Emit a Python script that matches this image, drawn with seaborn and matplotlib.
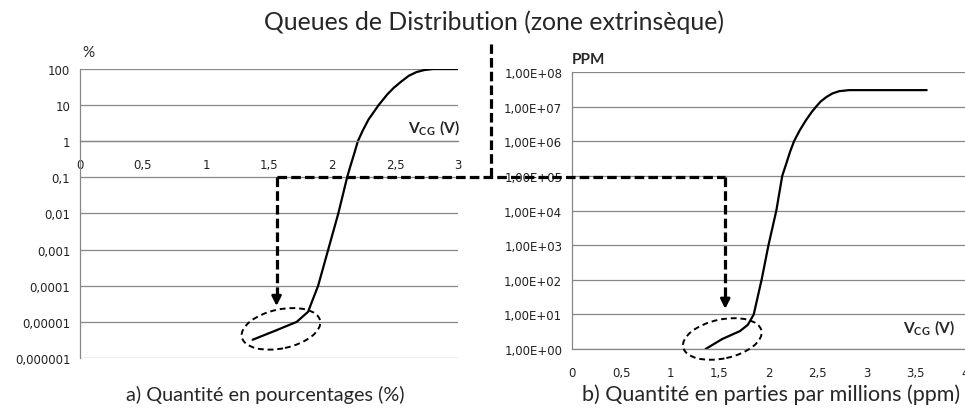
import numpy as np
import matplotlib
matplotlib.use("Agg")
import matplotlib.pyplot as plt
from matplotlib.lines import Line2D
from matplotlib.patches import Ellipse, FancyArrowPatch
from matplotlib.transforms import IdentityTransform
from matplotlib.ticker import FixedLocator, FixedFormatter, NullLocator
import seaborn as sns

# Tail of the threshold-voltage distribution, in percent
v_pct = [1.37, 1.55, 1.72, 1.81, 1.89, 1.97, 2.05, 2.12, 2.145, 2.18, 2.205, 2.245,
         2.29, 2.37, 2.44, 2.49, 2.55, 2.61, 2.67, 2.73, 2.80, 3.00]
pct = [3.2e-6, 5.7e-6, 1.0e-5, 1.9e-5, 1e-4, 1e-3, 1e-2, 1e-1, 0.2, 0.5, 1.0, 2.0,
       4.0, 10.0, 20.0, 30.0, 45.0, 65.0, 82.0, 93.0, 100.0, 100.0]

# Same tail, in parts per million
v_ppm = [1.36, 1.53, 1.71, 1.79, 1.85, 1.93, 2.00, 2.08, 2.14, 2.175, 2.22, 2.26,
         2.315, 2.38, 2.44, 2.485, 2.53, 2.59, 2.65, 2.72, 2.82, 3.61]
ppm = [1.0, 1.95, 3.3, 5.0, 10.0, 1e2, 1e3, 1e4, 1e5, 2e5, 5e5, 1e6,
       2e6, 4e6, 7e6, 1e7, 1.4e7, 1.9e7, 2.4e7, 2.8e7, 3.0e7, 3.0e7]

pct_ticks = [1e-6, 1e-5, 1e-4, 1e-3, 1e-2, 1e-1, 1, 10, 100]
pct_labels = ["0,000001", "0,00001", "0,0001", "0,001", "0,01", "0,1", "1", "10", "100"]
ppm_ticks = [10.0 ** k for k in range(0, 9)]
ppm_labels = ["1,00E+%02d" % k for k in range(0, 9)]
x_ticks_a = [0, 0.5, 1, 1.5, 2, 2.5, 3]
x_labels_a = ["0", "0,5", "1", "1,5", "2", "2,5", "3"]
x_ticks_b = [0, 0.5, 1, 1.5, 2, 2.5, 3, 3.5, 4]
x_labels_b = ["0", "0,5", "1", "1,5", "2", "2,5", "3", "3,5", "4"]

v_read = 1.56  # reading voltage marked by the dashed guides

sns.set_style("white")
plt.rcParams["font.family"] = ["DejaVu Sans"]
plt.rcParams["mathtext.fontset"] = "custom"
plt.rcParams["mathtext.bf"] = "Lato:bold"
plt.rcParams["mathtext.rm"] = "Lato"

GRID = "#878787"
DPI = 100
fig = plt.figure(figsize=(9.65, 4.10), dpi=DPI)
ax1 = fig.add_axes([0.0829, 0.1244, 0.3917, 0.7049])
ax2 = fig.add_axes([0.5927, 0.1463, 0.4073, 0.6756])

sns.lineplot(x=v_pct, y=pct, ax=ax1, color="black", lw=1.6, sort=False)
sns.lineplot(x=v_ppm, y=ppm, ax=ax2, color="black", lw=1.6, sort=False)

for ax in (ax1, ax2):
    ax.set_yscale("log")
    ax.yaxis.set_minor_locator(NullLocator())
    ax.xaxis.set_minor_locator(NullLocator())
    ax.grid(False)
    ax.yaxis.grid(True, color=GRID, lw=0.9)
    ax.set_axisbelow(True)
    for s in ("top", "right"):
        ax.spines[s].set_visible(False)
    for s in ("left", "bottom"):
        ax.spines[s].set_color(GRID)
        ax.spines[s].set_linewidth(0.9)
    ax.tick_params(axis="both", direction="out", length=4, width=0.9,
                   color=GRID, labelsize=8.5, labelcolor="#222222")
    ax.tick_params(axis="x", pad=8)
    ax.tick_params(axis="y", pad=3)
    ax.set_xlabel("")
    ax.set_ylabel("")

ax1.set_xlim(0, 3)
ax1.set_ylim(1e-6, 100)
ax1.yaxis.set_major_locator(FixedLocator(pct_ticks))
ax1.yaxis.set_major_formatter(FixedFormatter(pct_labels))
ax1.xaxis.set_major_locator(FixedLocator(x_ticks_a))
ax1.xaxis.set_major_formatter(FixedFormatter(x_labels_a))
ax1.spines["bottom"].set_position(("data", 1))

ax2.set_xlim(0, 4)
ax2.set_ylim(1, 1e8)
ax2.yaxis.set_major_locator(FixedLocator(ppm_ticks))
ax2.yaxis.set_major_formatter(FixedFormatter(ppm_labels))
ax2.xaxis.set_major_locator(FixedLocator(x_ticks_b))
ax2.xaxis.set_major_formatter(FixedFormatter(x_labels_b))

# Axis annotations
ax1.text(0.005, 1.06, "%", transform=ax1.transAxes, family="Lato",
         fontsize=11, ha="left", va="center")
ax2.text(0.0, 1.02, "PPM", transform=ax2.transAxes, family="Lato",
         fontsize=11, fontweight="bold", ha="left", va="bottom")
vcg = r"$\mathbf{V_{CG}}$ $\mathbf{(V)}$"
ax1.text(1.005, 0.80, vcg, transform=ax1.transAxes, fontsize=11.2,
         ha="right", va="center")
ax2.text(0.975, 0.08, vcg, transform=ax2.transAxes, fontsize=11.2,
         ha="right", va="center")

# Titles
fig.text(0.512, 0.946, "Queues de Distribution (zone extrinsèque)",
         family="Lato", fontsize=17.8, ha="center", va="center")
fig.text(0.2746, 0.037, "a) Quantité en pourcentages (%)",
         family="Lato", fontsize=14.3, ha="center", va="center")
fig.text(0.799, 0.037, "b) Quantité en parties par millions (ppm)",
         family="Lato", fontsize=15.5, ha="center", va="center")

# Dashed guides linking both panels at the reading voltage
p_a = ax1.transData.transform((v_read, 0.1))
p_b = ax2.transData.transform((v_read, 1e5))
tip_a = ax1.transData.transform((v_read, 2.3e-5))
tip_b = ax2.transData.transform((v_read, 12.0))
ident = IdentityTransform()
dash = (0, (3, 1.3))
sep_x = 491

def guide(xs, ys):
    fig.add_artist(Line2D(xs, ys, transform=ident, color="black", lw=2.3,
                          linestyle=dash, solid_capstyle="butt"))

guide([p_a[0], p_b[0]], [p_a[1], p_a[1]])
guide([sep_x, sep_x], [p_a[1], 410 - 45])
for top, tip in ((p_a, tip_a), (p_b, tip_b)):
    guide([top[0], top[0]], [p_a[1], tip[1] + 12])
    fig.add_artist(FancyArrowPatch((tip[0], tip[1] + 14), (tip[0], tip[1]),
                                   transform=ident, arrowstyle="-|>",
                                   mutation_scale=14, color="black", lw=2.0))

# Dashed ellipses around the low-voltage tails
for ax, cx, cy in ((ax1, 1.595, 6.4e-6), (ax2, 1.53, 1.95)):
    c = ax.transData.transform((cx, cy))
    fig.add_artist(Ellipse(c, width=80, height=39, angle=12, transform=ident,
                           fill=False, ec="black", lw=1.4,
                           linestyle=(0, (3, 2))))

fig.savefig("out.png", dpi=DPI, facecolor="white")
